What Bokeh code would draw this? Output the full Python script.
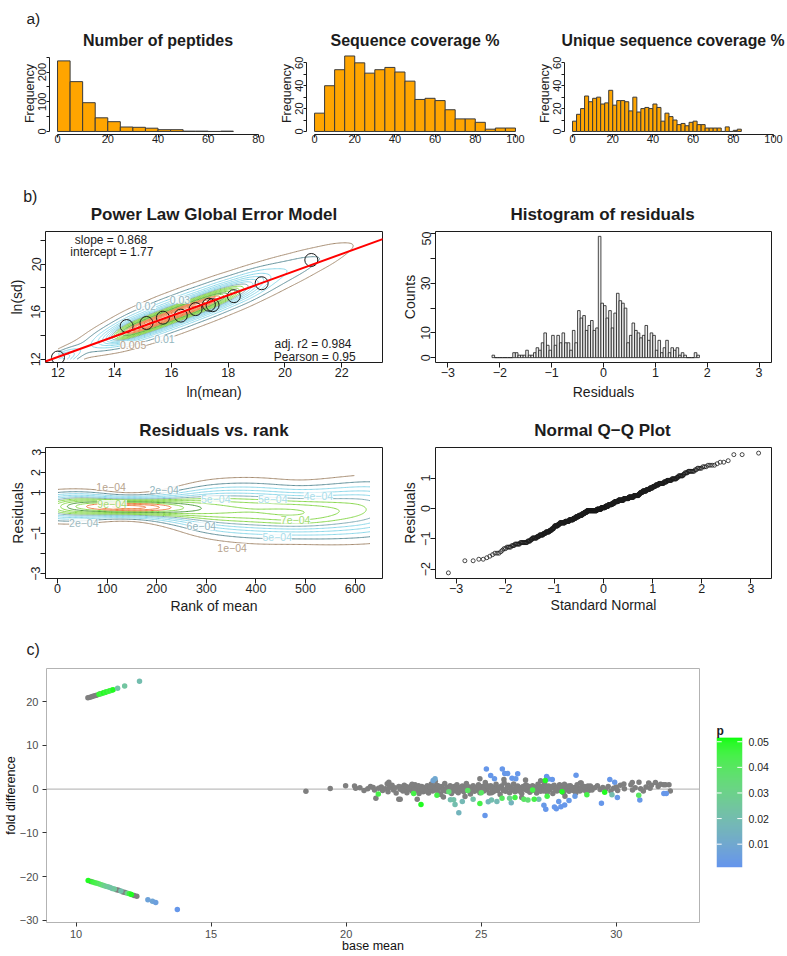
import numpy as np
from statistics import NormalDist
from bokeh.plotting import figure
from bokeh.layouts import row, column
from bokeh.models import FixedTicker, Label, Slope, Span, LinearColorMapper, ColumnDataSource
from bokeh.embed import file_html
from bokeh.resources import INLINE

FONT = "Liberation Sans"
INK = "#1c1c1c"
PAGE_W = 786

# ------------------------------------------------------------------ data (a)
pep_bin_width = 5
pep_counts = [238, 168, 97, 46, 33, 15, 14, 11, 6, 6, 1, 1, 0, 1]
cov_bin_width = 5
cov_counts = [16, 40, 54, 66, 60, 51, 54, 56, 52, 44, 28, 29, 27, 19, 11, 11, 8, 2, 3, 3]
ucov_bin_width = 2
ucov_counts = [9, 15, 20, 31, 26, 29, 30, 24, 25, 36, 23, 27, 27, 26, 18, 30, 17, 20, 21, 20,
               24, 21, 9, 16, 13, 10, 6, 7, 5, 8, 9, 6, 6, 3, 3, 3, 3, 0, 4, 0, 1, 2]
hist_titles = ["Number of peptides", "Sequence coverage %", "Unique sequence coverage %"]
pep_xticks = [0, 20, 40, 60, 80]
pep_yticks = [0, 50, 100, 150, 200, 250]
pep_ylabels = [0, 100, 200]
cov_xticks = [0, 20, 40, 60, 80, 100]
cov_yticks = [0, 10, 20, 30, 40, 50, 60]
cov_ylabels = [0, 20, 40, 60]

# ------------------------------------------------------------------ data (b)
slope = 0.868
intercept = 1.77
adj_r2 = 0.984
pearson = 0.95
bin_ln_mean = [12.0, 14.42, 15.12, 15.70, 16.33, 16.85, 17.32, 17.45, 18.20, 19.18, 20.93]
bin_ln_sd = [12.14, 14.79, 15.05, 15.50, 15.67, 16.22, 16.59, 16.55, 17.31, 18.40, 20.36]

# density ridge parameters: ln(mean) vs ln(sd)
core_x = [13.5, 14.0, 14.5, 15.0, 15.5, 16.0, 16.5, 17.0, 17.5, 18.0, 18.5, 19.0]
core_h = [0.03, 0.16, 0.42, 0.46, 0.47, 0.47, 0.46, 0.44, 0.37, 0.25, 0.14, 0.07]
core_sv = [0.45, 0.45, 0.45, 0.45, 0.45, 0.45, 0.45, 0.45, 0.47, 0.50, 0.55, 0.60]
core_dv = [0.0, 0.0, 0.0, 0.0, 0.0, 0.03, 0.05, 0.05, 0.08, 0.1, 0.12, 0.15]
wide_x = [12.5, 13.5, 14.5, 15.5, 16.5, 17.5, 18.5, 19.5, 20.5, 21.5, 22.5]
wide_h = [0.045, 0.12, 0.22, 0.26, 0.27, 0.25, 0.20, 0.14, 0.10, 0.07, 0.036]
wide_sv = [0.7, 0.85, 0.95, 1.0, 1.0, 1.0, 1.0, 1.0, 0.95, 0.85, 0.7]
wide_dv = [0.15, 0.15, 0.15, 0.15, 0.15, 0.15, 0.15, 0.2, 0.25, 0.3, 0.35]
blob_xyh = (12.05, -0.3, 0.3)
kde1_levels = [0.005, 0.010, 0.015, 0.020, 0.025, 0.030, 0.035, 0.040, 0.045, 0.050,
               0.055, 0.060, 0.065, 0.070, 0.075, 0.080, 0.085, 0.090, 0.095]
kde1_labels = [("0.005", 14.65, 13.2), ("0.01", 15.75, 13.72), ("0.03", 16.3, 17.0), ("0.02", 15.1, 16.45)]

resid_bin_start = -2.15
resid_bin_width = 0.05
resid_counts = [1, 0, 0, 0, 0, 0, 0, 0, 2, 2, 1, 1, 1, 3, 1, 1, 2, 4, 3, 6,
                10, 5, 3, 9, 5, 9, 6, 10, 6, 6, 3, 11, 6, 19, 16, 17, 11, 13, 15, 11,
                12, 49, 22, 21, 16, 19, 12, 18, 26, 23, 22, 20, 6, 9, 14, 11, 10, 8, 9, 13,
                7, 10, 9, 3, 7, 2, 4, 7, 2, 4, 3, 4, 1, 2, 1, 0, 0, 0, 2, 1]

# rank-of-mean vs residual density ridge
rk_x = [0, 60, 120, 180, 240, 300, 360, 420, 480, 540, 600, 660]
rk_h = [0.37, 0.40, 0.53, 0.51, 0.38, 0.33, 0.31, 0.31, 0.33, 0.29, 0.26, 0.24]
rk_my = [0.3, 0.35, 0.3, 0.28, 0.25, 0.2, 0.15, 0.1, 0.0, 0.05, 0.15, 0.25]
rk_sy = [0.42, 0.4, 0.27, 0.3, 0.45, 0.7, 0.78, 0.8, 0.72, 0.8, 0.85, 0.9]
kde3_levels = [1e-4, 2e-4, 3e-4, 4e-4, 5e-4, 6e-4, 7e-4, 8e-4, 9e-4, 1e-3, 1.1e-3, 1.2e-3, 1.3e-3, 1.4e-3]
kde3_labels = [("1e\u221204", 108, 1.31), ("2e\u221204", 215, 1.16), ("5e\u221204", 319, 0.67),
               ("5e\u221204", 434, 0.67), ("4e\u221204", 526, 0.83), ("9e\u221204", 110, 0.45),
               ("7e\u221204", 480, -0.33), ("6e\u221204", 290, -0.65), ("2e\u221204", 53, -0.5),
               ("1e\u221204", 352, -1.71), ("5e\u221204", 443, -1.2)]

# ------------------------------------------------------------------ data (c)
gray_pts = [
    (10.44, 20.9), (10.52, 21.05), (10.60, 21.2), (10.68, 21.35), (10.76, 21.5), (10.90, 21.8), (11.06, 22.1),
    (10.55, -21.1), (11.50, -23.0), (11.58, -23.15), (11.74, -23.5), (11.82, -23.65), (12.15, -24.3), (12.25, -24.5),
    (18.51, -0.45), (19.41, 0.15), (19.98, 0.8), (20.31, 0.7), (20.35, 0.2), (20.51, 0.3), (20.66, -0.3),
    (20.80, 0.1), (20.90, 0.6), (21.00, 0.4), (21.05, -0.2), (21.10, -2.1), (21.20, 0.2), (21.30, 0.5),
    (21.35, -0.3), (21.45, 0.1), (21.52, 1.25), (21.55, -0.6), (21.60, 0.4), (21.70, 0.9), (21.75, -0.2),
    (21.80, 0.3), (21.85, -0.9), (21.95, -2.3), (21.95, 0.6), (22.00, 0.0),
    (22.05, 0.5), (22.10, -0.4), (22.15, 0.9), (22.20, 0.1), (22.25, -0.8), (22.30, 0.4), (22.35, -0.1),
    (22.40, 0.7), (22.45, -0.5), (22.50, 0.2), (22.55, 1.0), (22.60, -0.3), (22.65, 0.5), (22.70, -1.0),
    (22.75, 0.0), (22.80, 0.6), (22.85, -0.6), (22.90, 0.3), (22.95, -0.2), (23.00, 0.8), (23.05, -0.9),
    (23.10, 0.2), (23.15, 1.2), (23.20, -0.4), (23.25, 0.5), (23.30, -0.1), (23.35, 0.9), (23.40, -0.7),
    (23.45, 0.3), (23.50, -1.2), (23.55, 0.6), (23.60, 0.0), (23.65, 1.3), (23.70, -0.5), (23.75, 0.4),
    (23.80, -0.2), (23.85, 0.8), (23.90, -1.0), (23.95, 0.1), (24.00, 0.6), (24.05, -0.4), (24.10, 1.0),
    (24.15, -0.8), (24.20, 0.3), (24.25, -0.1), (24.30, 0.7), (24.35, -0.6), (24.40, 0.2), (24.45, 1.3),
    (24.50, -0.3), (24.55, 0.5), (24.60, -1.1), (24.65, 0.0), (24.70, 0.8), (24.75, -0.5), (24.80, 0.4),
    (24.85, -0.2), (24.90, 1.0), (24.95, -0.8), (25.00, 0.2), (25.05, 0.6), (25.10, -0.4), (25.15, 1.5),
    (25.20, -0.1), (25.25, 0.4), (25.30, -0.9), (25.35, 0.8), (25.40, 0.0), (25.45, -0.6), (25.50, 0.5),
    (25.55, 1.1), (25.60, -0.3), (25.65, 0.3), (25.70, -1.2), (25.75, 0.7), (25.80, -0.1), (25.85, 1.4),
    (25.90, -0.5), (25.95, 0.2), (26.00, 0.9), (26.05, -0.8), (26.10, 0.4), (26.15, -0.2), (26.20, 1.2),
    (26.25, -0.6), (26.30, 0.1), (26.35, 0.7), (26.40, -0.4), (26.45, 0.3), (26.50, -1.0), (26.55, 0.6),
    (26.60, 0.0), (26.65, 1.0), (26.70, -0.3), (26.75, 0.5), (26.80, -0.7), (26.85, 0.2), (26.90, 0.8),
    (26.95, -0.1), (27.00, 0.4), (27.05, -0.9), (27.10, 1.1), (27.15, 0.1), (27.20, -0.5), (27.25, 0.6),
    (27.30, -0.2), (27.35, 1.3), (27.40, 0.3), (27.45, -0.7), (27.50, 0.7), (27.55, -0.1), (27.60, 0.4),
    (27.65, -1.0), (27.70, 0.9), (27.75, 0.0), (27.80, -0.4), (27.85, 0.5), (27.90, 1.0), (27.95, -0.3),
    (28.00, 0.2), (28.05, -0.8), (28.10, 0.6), (28.15, -0.1), (28.20, 0.3), (28.25, -0.5), (28.30, 0.8),
    (28.35, 0.0), (28.40, -0.3), (28.45, 0.4), (28.50, -0.9), (28.55, 1.0), (28.60, 0.1), (28.65, -0.4),
    (28.70, 1.4), (28.75, 0.5), (28.80, -0.2), (28.85, 0.3), (28.90, -0.6), (28.95, 0.7), (29.00, 0.0),
    (22.08, -0.1), (22.22, 0.6), (22.38, 0.2), (22.52, -0.2), (22.68, 0.8), (22.82, 0.1), (22.98, -0.5),
    (23.12, 0.5), (23.28, 0.0), (23.42, 0.7), (23.58, -0.3), (23.72, 0.1), (23.88, 0.5), (24.02, -0.1),
    (24.18, 0.4), (24.32, 0.0), (24.48, 0.6), (24.62, -0.2), (24.78, 0.1), (24.92, 0.5), (25.08, -0.2),
    (25.22, 0.8), (25.38, 0.3), (25.52, -0.1), (25.68, 0.4), (25.82, -0.3), (25.98, 0.6), (26.12, 0.0),
    (26.28, 0.4), (26.42, -0.2), (26.58, 0.3), (26.72, 0.7), (26.88, -0.3), (27.02, 0.1), (27.18, 0.6),
    (27.32, -0.4), (27.48, 0.2), (27.62, 0.6), (27.78, -0.2), (27.92, 0.3), (28.08, 0.0), (28.22, 0.7),
    (28.38, 0.3), (28.52, -0.2), (28.68, 0.2), (28.82, 0.6), (28.98, -0.3),
    (29.05, 0.5), (29.10, -0.2), (29.20, 0.3), (29.30, 0.8), (29.40, -0.1), (29.50, 0.4), (29.60, 0.0),
    (29.70, 0.6), (29.80, -0.4), (29.90, 0.2), (30.00, 0.5), (30.05, -0.3), (30.15, 0.9), (30.28, 1.2),
    (30.30, 0.1), (30.54, 1.0), (30.59, 1.5), (30.60, -0.2), (30.70, 0.3), (30.84, 1.6), (30.90, 0.1),
    (31.00, -0.4), (31.10, 0.5), (31.20, 1.4), (31.25, 0.2), (31.30, 0.9), (31.45, 1.5), (31.55, 0.6),
    (31.64, 1.1), (31.75, 1.0), (31.82, 1.0), (31.95, 1.0), (32.00, -0.4),
    (24.95, 2.4), (26.64, 2.1), (28.67, 1.4), (25.84, 2.2), (22.00, -2.3), (22.63, -2.3), (23.60, -1.8),
    (24.40, -1.7), (26.50, -1.9), (28.10, -1.6), (23.30, 1.8), (27.20, 1.9), (28.08, 1.1), (22.44, 1.1),
    (21.58, 1.6), (25.38, -0.8), (29.04, 0.7),
]
sig_pts = [
    (10.85, 21.7, 0.048), (10.95, 21.9, 0.046), (11.02, 22.05, 0.05), (11.08, 22.15, 0.047),
    (11.14, 22.3, 0.049), (11.20, 22.4, 0.046), (11.26, 22.5, 0.048), (11.32, 22.65, 0.045),
    (11.37, 22.75, 0.05), (11.54, 23.1, 0.022), (11.80, 23.6, 0.024), (12.35, 24.7, 0.02),
    (10.45, -20.9, 0.05), (10.62, -21.25, 0.047), (10.70, -21.4, 0.045), (10.78, -21.55, 0.043),
    (10.86, -21.7, 0.04), (10.94, -21.85, 0.036), (11.02, -22.05, 0.032), (11.10, -22.2, 0.028),
    (11.18, -22.35, 0.026), (11.26, -22.5, 0.024), (11.34, -22.7, 0.022), (11.42, -22.85, 0.025),
    (11.66, -23.3, 0.021), (11.90, -23.8, 0.03), (11.98, -23.95, 0.046), (12.05, -24.1, 0.05),
    (12.66, -25.3, 0.007), (12.83, -25.65, 0.008), (12.95, -25.9, 0.006), (13.75, -27.5, 0.002),
    (23.22, 2.0, 0.008), (23.29, 2.4, 0.01),
    (25.19, 4.6, 0.002), (25.35, 3.1, 0.002), (25.49, 2.4, 0.003), (25.78, 4.6, 0.002), (25.87, 3.6, 0.002),
    (25.98, 3.6, 0.003), (26.14, 2.5, 0.002), (26.35, 3.5, 0.002), (26.28, 2.4, 0.003), (27.42, 2.9, 0.002),
    (27.49, 2.3, 0.003), (27.63, 2.2, 0.002), (28.51, 3.2, 0.002), (29.76, 2.2, 0.002), (29.94, 1.6, 0.003),
    (25.14, -6.0, 0.002), (27.32, -3.7, 0.003), (27.39, -4.6, 0.002), (27.71, -4.1, 0.002), (27.78, -4.5, 0.002),
    (27.87, -2.8, 0.003), (27.95, -4.0, 0.002), (28.09, -3.6, 0.002), (28.25, -2.6, 0.003), (28.47, -1.6, 0.004),
    (29.45, -3.2, 0.002), (30.04, -1.9, 0.003), (30.87, -2.5, 0.003), (31.76, -1.0, 0.002), (31.85, -1.0, 0.002),
    (24.17, -5.4, 0.016), (24.03, -3.5, 0.02), (24.30, -2.8, 0.018), (23.86, -2.4, 0.02), (23.98, -2.4, 0.022),
    (25.26, -2.9, 0.016), (25.38, -2.5, 0.02), (25.58, -2.8, 0.018), (26.11, -3.1, 0.016), (27.13, -2.3, 0.02),
    (29.84, -1.3, 0.02), (24.70, -2.3, 0.022),
    (22.77, -3.5, 0.05), (23.36, -1.4, 0.045), (24.95, -3.3, 0.045), (25.77, -2.1, 0.04), (26.05, -2.1, 0.03),
    (26.25, -1.9, 0.045), (26.58, -2.3, 0.04), (26.73, -2.5, 0.035), (26.96, -2.3, 0.045), (27.44, -1.6, 0.045),
    (27.37, 2.0, 0.05), (27.99, -0.6, 0.05), (28.91, -1.3, 0.045), (29.57, -0.7, 0.05), (30.83, -1.4, 0.04),
    (22.50, -1.0, 0.045), (21.19, -1.1, 0.045), (25.00, -0.8, 0.04), (23.80, -0.6, 0.035), (24.50, -0.3, 0.04),
    (26.90, -0.2, 0.045),
]
p_low, p_high = 0.001, 0.0516
p_ticks = [0.01, 0.02, 0.03, 0.04, 0.05]
c_xticks = [10, 15, 20, 25, 30]
c_yticks = [-30, -20, -10, 0, 10, 20]

# ------------------------------------------------------------------ colours
BROWN, SLATE, CYAN, SLATE2 = "#A58B70", "#5F8E98", "#8AD6E8", "#7FA9B3"
GREEN, DKGREEN, ORANGE = "#86D64A", "#4E9A3C", "#EC7E44"
kde1_colors = [BROWN, SLATE, CYAN, CYAN, CYAN, CYAN, CYAN, SLATE2, GREEN, GREEN, GREEN, GREEN,
               DKGREEN, GREEN, ORANGE, ORANGE, ORANGE, ORANGE, ORANGE]
kde3_colors = [BROWN, SLATE, CYAN, CYAN, CYAN, SLATE2, GREEN, GREEN, GREEN, DKGREEN, GREEN,
               ORANGE, ORANGE, ORANGE]
label_colors = {BROWN: "#B7A38E", SLATE: "#93B6BE", CYAN: "#A9DDEA", SLATE2: "#9DBBC2",
                GREEN: "#A2DC74", DKGREEN: "#7FB56F", ORANGE: "#F0A27A"}


def lab_palette(c0, c1, n=256):
    M = np.array([[0.4124, 0.3576, 0.1805], [0.2126, 0.7152, 0.0722], [0.0193, 0.1192, 0.9505]])
    Mi = np.linalg.inv(M)
    W = np.array([0.95047, 1.0, 1.08883])
    d = 6 / 29

    def to_lab(c):
        c = np.array(c, float) / 255
        lin = np.where(c <= 0.04045, c / 12.92, ((c + 0.055) / 1.055) ** 2.4)
        t = M @ lin / W
        f = np.where(t > d ** 3, np.cbrt(t), t / (3 * d * d) + 4 / 29)
        return np.array([116 * f[1] - 16, 500 * (f[0] - f[1]), 200 * (f[1] - f[2])])

    def to_hex(lab):
        fy = (lab[0] + 16) / 116
        f = np.array([fy + lab[1] / 500, fy, fy - lab[2] / 200])
        t = np.where(f > d, f ** 3, 3 * d * d * (f - 4 / 29)) * W
        lin = np.clip(Mi @ t, 0, 1)
        s = np.where(lin <= 0.0031308, 12.92 * lin, 1.055 * lin ** (1 / 2.4) - 0.055)
        r, g, b = np.clip(np.round(s * 255), 0, 255).astype(int)
        return "#%02x%02x%02x" % (r, g, b)

    l0, l1 = to_lab(c0), to_lab(c1)
    return [to_hex(l0 + (l1 - l0) * t) for t in np.linspace(0, 1, n)]


P_PALETTE = lab_palette((100, 149, 237), (0, 255, 0))


# ------------------------------------------------------------------ helpers
def make_fig(w, h, left, right, top, bottom, xr, yr, **kw):
    p = figure(width=w, height=h, x_range=xr, y_range=yr, output_backend="svg",
               toolbar_location=None, min_border_left=left, min_border_right=right,
               min_border_top=top, min_border_bottom=bottom, **kw)
    p.grid.visible = False
    p.outline_line_color = None
    p.border_fill_color = "white"
    p.background_fill_color = "white"
    return p


def header(H, items):
    """A strip that holds panel letters and plot titles (positions in pixels)."""
    p = make_fig(PAGE_W, H, 0, 0, 0, 0, (0, PAGE_W), (H, 0), x_axis_location=None, y_axis_location=None)
    for text, x, y, size, bold, align in items:
        p.add_layout(Label(x=x, y=y, text=text, text_font=FONT, text_font_size=size,
                           text_font_style=("bold" if bold else "normal"), text_align=align,
                           text_baseline="alphabetic", text_color=INK))
    return p


def fmt_tick(v):
    return ("%g" % v).replace("-", "\u2212")


def style_axis(ax, ticks, shown, size, tick_out, standoff, line_color=None,
               tick_color=INK, label_color=INK, bounds=None, title=None, title_size="14px",
               title_standoff=0, title_color=INK):
    ax.ticker = FixedTicker(ticks=ticks)
    ax.major_label_overrides = {t: (fmt_tick(t) if t in shown else "") for t in ticks}
    ax.major_label_text_font = FONT
    ax.major_label_text_font_size = size
    ax.major_label_text_color = label_color
    ax.major_label_standoff = standoff
    ax.major_tick_out = tick_out
    ax.major_tick_in = 0
    ax.minor_tick_out = 0
    ax.minor_tick_in = 0
    ax.major_tick_line_color = tick_color
    ax.axis_line_color = line_color
    if bounds is not None:
        ax.bounds = bounds
    if title is not None:
        ax.axis_label = title
        ax.axis_label_text_font = FONT
        ax.axis_label_text_font_size = title_size
        ax.axis_label_text_font_style = "normal"
        ax.axis_label_text_color = title_color
        ax.axis_label_standoff = title_standoff


def pad(lo, hi):
    d = 0.04 * (hi - lo)
    return (lo - d, hi + d)


# ------------------------------------------------------------------ row (a)
A_FH, A_BOTTOM = 82, 26
A_H = A_FH + A_BOTTOM


def hist_fig(w, left, right, counts, bw, xr, yr, xticks, yticks, ylabels, xb, yb):
    p = make_fig(w, A_H, left, right, 0, A_BOTTOM, xr, yr)
    edges = np.arange(len(counts) + 1) * bw
    p.quad(left=edges[:-1], right=edges[1:], bottom=0, top=counts,
           fill_color="#FFA500", line_color="#3a3a3a", line_width=1)
    style_axis(p.xaxis[0], xticks, xticks, "11px", 3, -3, line_color=INK, bounds=xb)
    style_axis(p.yaxis[0], yticks, ylabels, "11px", 3, 0, line_color=INK, bounds=yb,
               title="Frequency", title_size="12.5px", title_standoff=-1)
    p.yaxis.major_label_orientation = "vertical"
    return p


hdr_a = header(52, [("a)", 26, 17.5, "15.5px", False, "left"),
                    (hist_titles[0], 157.5, 40, "16px", True, "center"),
                    (hist_titles[1], 414.5, 40, "16px", True, "center"),
                    (hist_titles[2], 672.5, 40, "15.8px", True, "center")])
a1 = hist_fig(272, 49, 6, pep_counts, pep_bin_width, pad(0, 80), pad(0, 256),
              pep_xticks, pep_yticks, pep_ylabels, (0, 80), (0, 250))
a2 = hist_fig(258, 34, 7, cov_counts, cov_bin_width, pad(0, 100), pad(0, 66.4),
              cov_xticks, cov_yticks, cov_ylabels, (0, 100), (0, 60))
a3 = hist_fig(256, 34, 5, ucov_counts, ucov_bin_width, pad(0, 100), pad(0, 66.4),
              cov_xticks, cov_yticks, cov_ylabels, (0, 100), (0, 60))


# ------------------------------------------------------------------ panel b helpers
def box_fig(w, h, left, right, bottom, xr, yr):
    p = make_fig(w, h, left, right, 0, bottom, xr, yr)
    p.outline_line_color = INK
    p.outline_line_alpha = 1
    p.outline_line_width = 1
    return p


def b_axes(p, xticks, xshown, yticks, yshown, xtitle, ytitle, xs, ys):
    style_axis(p.xaxis[0], xticks, xshown, "12.5px", 5, 0, title=xtitle, title_standoff=xs)
    style_axis(p.yaxis[0], yticks, yshown, "12.5px", 5, 0, title=ytitle, title_standoff=ys)
    p.yaxis.major_label_orientation = "vertical"


# ---- header b (row 1)
hdr_b1 = header(71, [("b)", 22.7, 36, "16px", False, "left"),
                     ("Power Law Global Error Model", 213.5, 54.3, "17px", True, "center"),
                     ("Histogram of residuals", 602, 54.3, "17px", True, "center")])

B1_FH, B1_BOTTOM = 132, 39
B1_H = B1_FH + B1_BOTTOM

# ---- power law plot
p1 = box_fig(398, B1_H, 45, 16, B1_BOTTOM, (11.56, 23.44), (11.72, 22.76))
gx = np.linspace(12.0, 23.2, 260)
gy = np.linspace(12.0, 22.5, 240)
GX, GY = np.meshgrid(gx, gy)
V = GY - (slope * GX + intercept)
Z1 = np.zeros_like(GX)
for xc, h, sv, dv in zip(core_x, core_h, core_sv, core_dv):
    Z1 += h * np.exp(-0.5 * ((GX - xc) / 0.3) ** 2 - 0.5 * ((V - dv) / sv) ** 2)
for xc, h, sv, dv in zip(wide_x, wide_h, wide_sv, wide_dv):
    Z1 += h * np.exp(-0.5 * ((GX - xc) / 0.55) ** 2 - 0.5 * ((V - dv) / sv) ** 2)
Z1 += blob_xyh[2] * np.exp(-0.5 * ((GX - blob_xyh[0]) / 0.45) ** 2 - 0.5 * ((V - blob_xyh[1]) / 0.45) ** 2)
Z1 *= 0.099 / Z1.max()
p1.contour(x=gx, y=gy, z=Z1, levels=kde1_levels, line_color=kde1_colors, line_width=1)
for txt, lx, ly in kde1_labels:
    p1.add_layout(Label(x=lx, y=ly, text=txt, text_font=FONT, text_font_size="10.5px",
                        text_align="center", text_baseline="middle",
                        text_color=label_colors[BROWN] if txt == "0.005" else label_colors[SLATE],
                        background_fill_color="white", background_fill_alpha=0.85))
p1.scatter(bin_ln_mean, bin_ln_sd, marker="circle", size=13, fill_color=None,
           line_color=INK, line_width=1)
p1.add_layout(Slope(gradient=slope, y_intercept=intercept, line_color="red", line_width=2))
for txt, lx, ly in [("slope = %.3f" % slope, 13.87, 22.07), ("intercept = %.2f" % intercept, 13.9, 21.06),
                    ("adj. r2 = %.3f" % adj_r2, 20.99, 13.32), ("Pearson = %.2f" % pearson, 21.05, 12.19)]:
    p1.add_layout(Label(x=lx, y=ly, text=txt, text_font=FONT, text_font_size="12px",
                        text_align="center", text_baseline="middle", text_color=INK))
b_axes(p1, [12, 14, 16, 18, 20, 22], [12, 14, 16, 18, 20, 22], [12, 14, 16, 18, 20, 22], [12, 16, 20],
       "ln(mean)", "ln(sd)", 4, 4)

# ---- residual histogram
p2 = box_fig(388, B1_H, 35, 15, B1_BOTTOM, (-3.24, 3.24), (-1.96, 50.96))
r_edges = resid_bin_start + resid_bin_width * np.arange(len(resid_counts) + 1)
p2.quad(left=r_edges[:-1], right=r_edges[1:], bottom=0, top=resid_counts,
        fill_color="#EEEEEE", line_color=INK, line_width=0.8)
b_axes(p2, [-3, -2, -1, 0, 1, 2, 3], [-3, -2, -1, 0, 1, 2, 3], [0, 10, 20, 30, 40, 50], [0, 10, 30, 50],
       "Residuals", "Counts", 4, 1)

# ---- header b (row 2)
hdr_b2 = header(45, [("Residuals vs. rank", 213.5, 28, "17px", True, "center"),
                     ("Normal Q\u2212Q Plot", 602, 28, "17px", True, "center")])

B2_FH, B2_BOTTOM = 131, 38
B2_H = B2_FH + B2_BOTTOM

# ---- residuals vs rank
p3 = box_fig(398, B2_H, 45, 16, B2_BOTTOM, (-24.2, 655.2), (-3.24, 3.24))
rx = np.linspace(1, 630, 260)
ry = np.linspace(-2.15, 1.85, 220)
RX, RY = np.meshgrid(rx, ry)
Z3 = np.zeros_like(RX)
for xc, h, my, sy in zip(rk_x, rk_h, rk_my, rk_sy):
    Z3 += h * np.exp(-0.5 * ((RX - xc) / 45.0) ** 2 - 0.5 * ((RY - my) / sy) ** 2)
Z3 *= 1.45e-3 / Z3.max()
p3.contour(x=rx, y=ry, z=Z3, levels=kde3_levels, line_color=kde3_colors, line_width=1)
lab3_cols = [BROWN, SLATE, CYAN, CYAN, CYAN, GREEN, GREEN, SLATE, SLATE2, BROWN, CYAN]
for (txt, lx, ly), col in zip(kde3_labels, lab3_cols):
    p3.add_layout(Label(x=lx, y=ly, text=txt, text_font=FONT, text_font_size="10.5px",
                        text_align="center", text_baseline="middle", text_color=label_colors[col],
                        background_fill_color="white", background_fill_alpha=0.85))
b_axes(p3, [0, 100, 200, 300, 400, 500, 600], [0, 100, 200, 300, 400, 500, 600],
       [-3, -2, -1, 0, 1, 2, 3], [-3, -1, 1, 2, 3], "Rank of mean", "Residuals", 2, 3)

# ---- normal QQ
p4 = box_fig(388, B2_H, 35, 15, B2_BOTTOM, (-3.42, 3.42), (-2.31, 2.01))
centers = resid_bin_start + resid_bin_width * (np.arange(len(resid_counts)) + 0.5)
resid_sorted = np.repeat(centers, resid_counts)
n_res = len(resid_sorted)
nd = NormalDist()
qq_x = [nd.inv_cdf((k + 0.5) / n_res) for k in range(n_res)]
p4.scatter(qq_x, resid_sorted, marker="circle", size=4, fill_color=None, line_color=INK, line_width=0.8)
b_axes(p4, [-3, -2, -1, 0, 1, 2, 3], [-3, -2, -1, 0, 1, 2, 3], [-2, -1, 0, 1], [-2, -1, 0, 1],
       "Standard Normal", "Residuals", 1, 1)

# ------------------------------------------------------------------ row (c)
hdr_c = header(52, [("c)", 26, 33.3, "16px", False, "left")])

C_FH, C_BOTTOM = 256, 31
C_H = C_FH + C_BOTTOM
pc = make_fig(712, C_H, 42, 13, 0, C_BOTTOM, (8.907, 33.08), (-30.5, 27.6))
pc.outline_line_color = "#B3B3B3"
pc.outline_line_alpha = 1
pc.add_layout(Span(location=0, dimension="width", line_color="#BEBEBE", line_width=1.2, level="underlay"))
pc.scatter([q[0] for q in gray_pts], [q[1] for q in gray_pts], marker="circle", size=5.5,
           fill_color="#7F7F7F", line_color=None)
p_mapper = LinearColorMapper(palette=P_PALETTE, low=p_low, high=p_high)
sig_src = ColumnDataSource({"x": [q[0] for q in sig_pts], "y": [q[1] for q in sig_pts],
                            "p": [q[2] for q in sig_pts]})
pc.scatter("x", "y", source=sig_src, marker="circle", size=5.5,
           fill_color={"field": "p", "transform": p_mapper}, line_color=None)
style_axis(pc.xaxis[0], c_xticks, c_xticks, "11px", 4, 3, tick_color="#333333", label_color="#4D4D4D",
           title="base mean", title_size="12.5px", title_standoff=-2, title_color="#111111")
style_axis(pc.yaxis[0], c_yticks, c_yticks, "11px", 4, 4, tick_color="#333333", label_color="#4D4D4D",
           title="fold difference", title_size="12.5px", title_standoff=-1, title_color="#111111")

# colour bar (same frame height as the scatter panel; the bar covers p_low..p_high)
cb_px = (p_high - p_low) / 130.6
pcb = make_fig(PAGE_W - 712, C_H, 4, PAGE_W - 712 - 30, 0, C_BOTTOM, (0, 1),
               (p_low - 55.7 * cb_px, p_high + 69.7 * cb_px), x_axis_location=None, y_axis_location="right")
grad = np.linspace(p_low, p_high, 256).reshape(256, 1)
pcb.image(image=[grad], x=0, y=p_low, dw=1, dh=p_high - p_low, color_mapper=p_mapper)
pcb.segment(x0=[0] * len(p_ticks), x1=[0.2] * len(p_ticks), y0=p_ticks, y1=p_ticks, line_color="white", line_width=1)
pcb.segment(x0=[0.8] * len(p_ticks), x1=[1] * len(p_ticks), y0=p_ticks, y1=p_ticks, line_color="white", line_width=1)
style_axis(pcb.yaxis[0], p_ticks, p_ticks, "10.5px", 0, 6, tick_color=None, label_color="#222222")
pcb.add_layout(Label(x=0, y=p_high + 6.7 * cb_px, text="p", text_font=FONT, text_font_size="12px",
                     text_font_style="bold", text_align="left", text_baseline="alphabetic", text_color=INK))

layout = column(hdr_a, row(a1, a2, a3), hdr_b1, row(p1, p2), hdr_b2, row(p3, p4), hdr_c, row(pc, pcb))
open("out.html", "w").write(file_html(layout, INLINE, "figure"))
